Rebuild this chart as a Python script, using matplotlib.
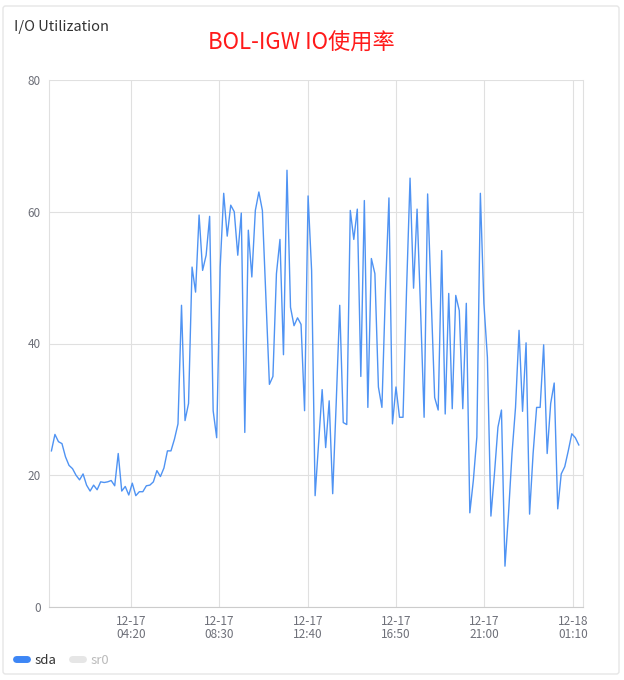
import pandas as pd
import matplotlib
matplotlib.use("Agg")
import matplotlib.pyplot as plt
from matplotlib.lines import Line2D
from matplotlib.patches import FancyBboxPatch

plt.rcParams['font.family'] = ['Noto Sans CJK SC', 'DejaVu Sans']

# sda utilization (%), sampled from 12-17 00:35 to 12-18 01:27
sda = [
    23.7, 26.2, 25.1, 24.8, 22.8, 21.5, 21.0, 20.0, 19.3, 20.2,
    18.5, 17.6, 18.5, 17.8, 19.0, 18.9, 19.0, 19.2, 18.4, 23.3,
    17.6, 18.3, 17.0, 18.8, 16.9, 17.5, 17.5, 18.4, 18.5, 19.0,
    20.7, 19.8, 21.1, 23.7, 23.7, 25.5, 27.8,
    45.8, 28.3, 30.9, 51.6, 47.8, 59.5, 51.1, 53.4, 59.3, 29.8, 25.7,
    51.6, 62.8, 56.3, 61.0, 60.0, 53.4, 59.8, 26.5, 57.2, 50.1, 60.2, 63.0, 60.2,
    47.0, 33.8, 35.0, 50.6, 55.8, 38.3, 66.3, 45.5, 42.7, 43.9, 42.9, 29.8, 62.4, 51.1, 16.9,
    25.0, 33.0, 24.2, 31.3, 17.2, 31.0, 45.8, 28.0, 27.7, 60.2, 55.8, 60.4, 35.0, 61.7,
    30.3, 52.9, 50.6, 33.4, 30.3,
    48.0, 62.1, 27.8, 33.4, 28.8, 28.8, 48.0, 65.1, 48.4, 60.4, 45.0, 28.8, 62.7, 47.0,
    31.8, 29.9, 54.1, 29.3, 47.6, 30.1, 47.3, 45.0, 30.1, 46.1,
    14.3, 19.2, 25.8, 62.8, 46.1, 37.9, 13.8, 20.2, 27.3, 29.9, 6.2, 14.1, 23.3, 30.3,
    42.0, 29.7, 40.1, 14.1, 23.3, 30.3, 30.3, 39.8, 23.3, 30.9, 34.0, 14.9, 20.2, 21.3,
    23.7, 26.3, 25.7, 24.6,
]
times = pd.date_range('2023-12-17 00:35', '2023-12-18 01:27', periods=len(sda))

x_ticks = pd.date_range('2023-12-17 04:20', periods=6, freq='250min')
y_ticks = [0, 20, 40, 60, 80]

fig = plt.figure(figsize=(6.24, 6.8), dpi=100)
ax = fig.add_axes([49.3 / 624, 1 - 607 / 680, (582.7 - 49.3) / 624, (607 - 80) / 680])

ax.plot(times, sda, color='#4f93f3', lw=1.0)

ax.set_xlim(pd.Timestamp('2023-12-17 00:29'), pd.Timestamp('2023-12-18 01:38'))
ax.set_ylim(0, 80)
ax.set_yticks(y_ticks)
ax.set_xticks(x_ticks)
ax.set_xticklabels([t.strftime('%m-%d\n%H:%M') for t in x_ticks], linespacing=0.95)

ax.grid(True, color='#e0e0e0', lw=0.8)
ax.set_axisbelow(True)
ax.spines['top'].set_visible(False)
ax.spines['right'].set_color('#e0e0e0')
ax.spines['left'].set_color('#e0e0e0')
ax.spines['bottom'].set_color('#cccccc')
ax.tick_params(length=0, labelsize=8.5, colors='#6e7079', pad=6)

# card border
fig.patches.append(FancyBboxPatch((3 / 624, 6 / 680), 616 / 624, 668 / 680,
                                  boxstyle='round,pad=0,rounding_size=0.004',
                                  transform=fig.transFigure, fc='none',
                                  ec='#e6e6e6', lw=1))

fig.text(14 / 624, 1 - 27 / 680, 'I/O Utilization', fontsize=10.5, color='#333333',
         va='center', ha='left')
fig.text(301 / 624, 1 - 43 / 680, 'BOL-IGW IO使用率', fontsize=16, color='#ff1a1a',
         va='center', ha='center')

handles = [Line2D([], [], color='#3d86f5', lw=5, solid_capstyle='round'),
           Line2D([], [], color='#e6e6e6', lw=5, solid_capstyle='round')]
leg = fig.legend(handles, ['sda', 'sr0'], loc='center left',
                 bbox_to_anchor=(16 / 624, 1 - 660 / 680), ncol=2, frameon=False,
                 fontsize=9.5, handlelength=0.8, handletextpad=0.6, columnspacing=1.2,
                 borderpad=0, borderaxespad=0)
leg.get_texts()[0].set_color('#333333')
leg.get_texts()[1].set_color('#bbbbbb')

fig.savefig('out.png', dpi=100)
